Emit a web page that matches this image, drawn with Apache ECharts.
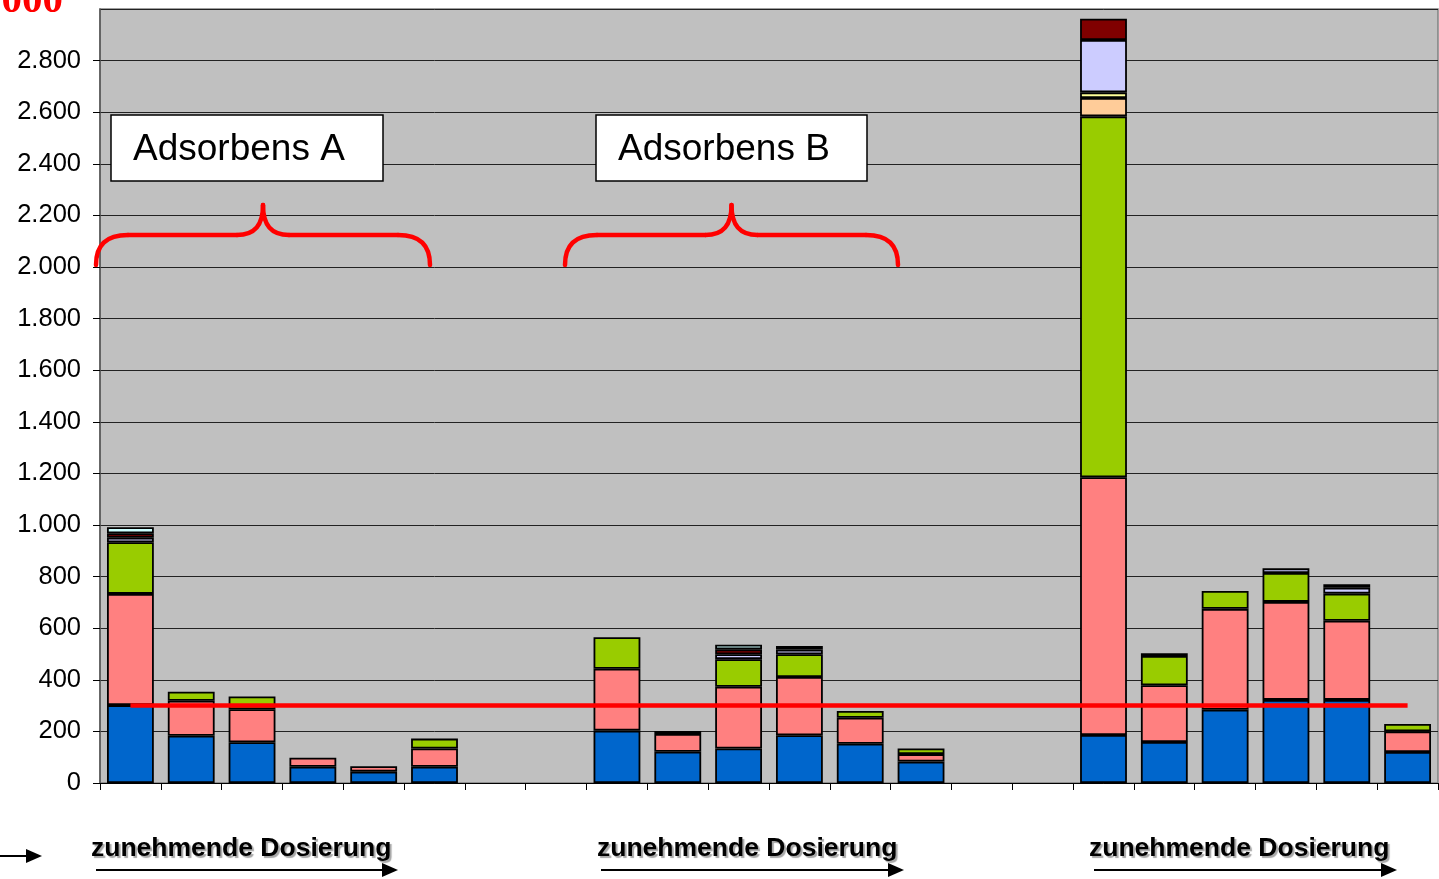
<!DOCTYPE html>
<html>
<head>
<meta charset="utf-8">
<style>
  html, body { margin: 0; padding: 0; background: #ffffff; }
  #chart { width: 1439px; height: 879px; }
</style>
<script src="https://cdn.jsdelivr.net/npm/echarts@6/dist/echarts.min.js"></script>
</head>
<body>
<div id="chart"></div>
<script>
// Dosing series: A1–A6 (Adsorbens A), B1–B6 (Adsorbens B), C1–C6; gaps between groups
const categories = ['A1','A2','A3','A4','A5','A6','g1','g2','B1','B2','B3','B4','B5','B6','g3','g4','C1','C2','C3','C4','C5','C6'];

// stacked components (bottom to top)
const blueVals     = [302,183,158,63,44,63,null,null,203,121,134,185,152,83,null,null,186,159,284,322,322,120];
const pinkVals     = [431,136,128,35,21,71,null,null,240,69,239,226,101,29,null,null,999,220,391,380,307,80];
const greenVals    = [200,35,49,null,null,38,null,null,122,12,107,88,26,22,null,null,1399,113,69,112,105,29];
const orangeVals   = [null,null,null,null,null,null,null,null,null,null,null,null,null,null,null,null,71,null,null,null,null,null];
const yellowVals   = [null,null,null,null,null,null,null,null,null,null,null,null,null,null,null,null,22,null,null,null,null,null];
const lavenderVals = [18,null,null,null,null,null,null,null,null,null,19,18,null,null,null,null,203,11,null,18,23,null];
const darkRedVals  = [17,null,null,null,null,null,null,null,null,null,19,null,null,null,null,null,82,null,null,null,null,null];
const cyanVals     = [23,null,null,null,null,null,null,null,null,null,18,14,null,null,null,null,null,null,null,null,13,null];

// limit value drawn as a horizontal red line
const limitValue = 300;
const limitVals = categories.map(() => limitValue);

const yMax = 3000;
const yInterval = 200;

const groupTitles = ['Adsorbens A', 'Adsorbens B'];
const doseText = 'zunehmende Dosierung';

function deFormat(v) {
  return String(v).replace(/\B(?=(\d{3})+(?!\d))/g, '.');
}

const stackDefs = [
  { name: 'K1', data: blueVals,     color: '#0066CC' },
  { name: 'K2', data: pinkVals,     color: '#FF8080' },
  { name: 'K3', data: greenVals,    color: '#99CC00' },
  { name: 'K4', data: orangeVals,   color: '#FFCC99' },
  { name: 'K5', data: yellowVals,   color: '#FFFF99' },
  { name: 'K6', data: lavenderVals, color: '#CCCCFF' },
  { name: 'K7', data: darkRedVals,  color: '#800000' },
  { name: 'K8', data: cyanVals,     color: '#CCFFFF' }
];

const series = stackDefs.map(d => ({
  name: d.name,
  type: 'bar',
  stack: 'total',
  data: d.data,
  barCategoryGap: '23%',
  itemStyle: { color: d.color, borderColor: '#000000', borderWidth: 1.8 },
  emphasis: { disabled: true },
  animation: false
}));

series.push({
  name: 'Grenzwert',
  type: 'line',
  data: limitVals,
  symbol: 'none',
  z: 10,
  lineStyle: { color: '#FF0000', width: 4.5 },
  animation: false
});

// curly brace made of bezier arcs and straight runs, peak in the middle
function brace(x0, x1) {
  const m = (x0 + x1) / 2;
  const yb = 265, yh = 235, yp = 205;
  const st = { stroke: '#FF0000', lineWidth: 4.5, fill: null, lineCap: 'round' };
  const bz = (a, b, c, d) => ({ type: 'bezierCurve', z: 20, style: st,
    shape: { x1: a[0], y1: a[1], cpx1: b[0], cpy1: b[1], cpx2: c[0], cpy2: c[1], x2: d[0], y2: d[1] } });
  const ln = (a, b) => ({ type: 'line', z: 20, style: st, shape: { x1: a[0], y1: a[1], x2: b[0], y2: b[1] } });
  return [
    bz([x0, yb], [x0, yb - 20], [x0 + 10, yh], [x0 + 32, yh]),
    ln([x0 + 32, yh], [m - 26, yh]),
    bz([m - 26, yh], [m - 8, yh], [m, yh - 10], [m, yp]),
    bz([m, yp], [m, yh - 10], [m + 8, yh], [m + 26, yh]),
    ln([m + 26, yh], [x1 - 32, yh]),
    bz([x1 - 32, yh], [x1 - 10, yh], [x1, yb - 20], [x1, yb])
  ];
}

function arrow(x0, x1, y) {
  return [
    { type: 'line', shape: { x1: x0, y1: y, x2: x1 - 12, y2: y }, style: { stroke: '#000', lineWidth: 2 }, z: 20 },
    { type: 'polygon', shape: { points: [[x1 - 16, y - 7], [x1, y], [x1 - 16, y + 7]] }, style: { fill: '#000' }, z: 20 }
  ];
}

function doseLabel(x, y) {
  return {
    type: 'text', x: x, y: y, z: 20,
    style: {
      text: doseText, fill: '#000', verticalAlign: 'middle',
      font: 'bold 26.5px "Liberation Sans", Arial, sans-serif',
      textShadowColor: 'rgba(0,0,0,0.35)', textShadowOffsetX: 2, textShadowOffsetY: 2, textShadowBlur: 1
    }
  };
}

function titleBox(x, w, label) {
  return [
    { type: 'rect', shape: { x: x, y: 115, width: w, height: 66 }, style: { fill: '#FFFFFF', stroke: '#000', lineWidth: 1.5 }, z: 20 },
    { type: 'text', x: x + 22, y: 150, z: 21,
      style: { text: label, fill: '#000', verticalAlign: 'middle',
               font: '37px "Liberation Sans", Arial, sans-serif' } }
  ];
}

const graphics = [
  ...titleBox(111, 272, groupTitles[0]),
  ...titleBox(596, 271, groupTitles[1]),
  ...brace(96, 430),
  ...brace(565, 898),
  doseLabel(91, 849),
  doseLabel(597, 849),
  doseLabel(1089, 849),
  ...arrow(96, 398, 870),
  ...arrow(601, 904, 870),
  ...arrow(1094, 1397, 870),
  ...arrow(-5, 42, 856),
  { type: 'text', z: 20, x: 63, y: 22,
    style: { text: deFormat(yMax), fill: '#FF0000', align: 'right', verticalAlign: 'bottom',
             font: 'bold 41px "Liberation Serif", "Times New Roman", serif' } }
];

const chart = echarts.init(document.getElementById('chart'), null, { renderer: 'canvas' });
chart.setOption({
  animation: false,
  grid: {
    left: 100, right: 1, top: 9, bottom: 96,
    show: true, backgroundColor: '#C0C0C0', borderColor: '#808080', borderWidth: 1.5
  },
  xAxis: {
    type: 'category',
    data: categories,
    axisLine: { lineStyle: { color: '#000', width: 1 } },
    axisTick: { show: true, length: 7, lineStyle: { color: '#000' } },
    axisLabel: { show: false },
    splitLine: { show: false }
  },
  yAxis: {
    type: 'value',
    min: 0, max: yMax, interval: yInterval,
    axisLine: { show: true, lineStyle: { color: '#555', width: 1.5 } },
    axisTick: { show: true, length: 7, lineStyle: { color: '#000' } },
    axisLabel: {
      margin: 19, color: '#000', fontSize: 25.5, fontFamily: '"Liberation Sans", Arial, sans-serif',
      showMaxLabel: false,
      formatter: v => (v < yMax ? deFormat(v) : '')
    },
    splitLine: { show: true, lineStyle: { color: '#222', width: 1 } }
  },
  series: series,
  graphic: graphics
});
</script>
</body>
</html>
